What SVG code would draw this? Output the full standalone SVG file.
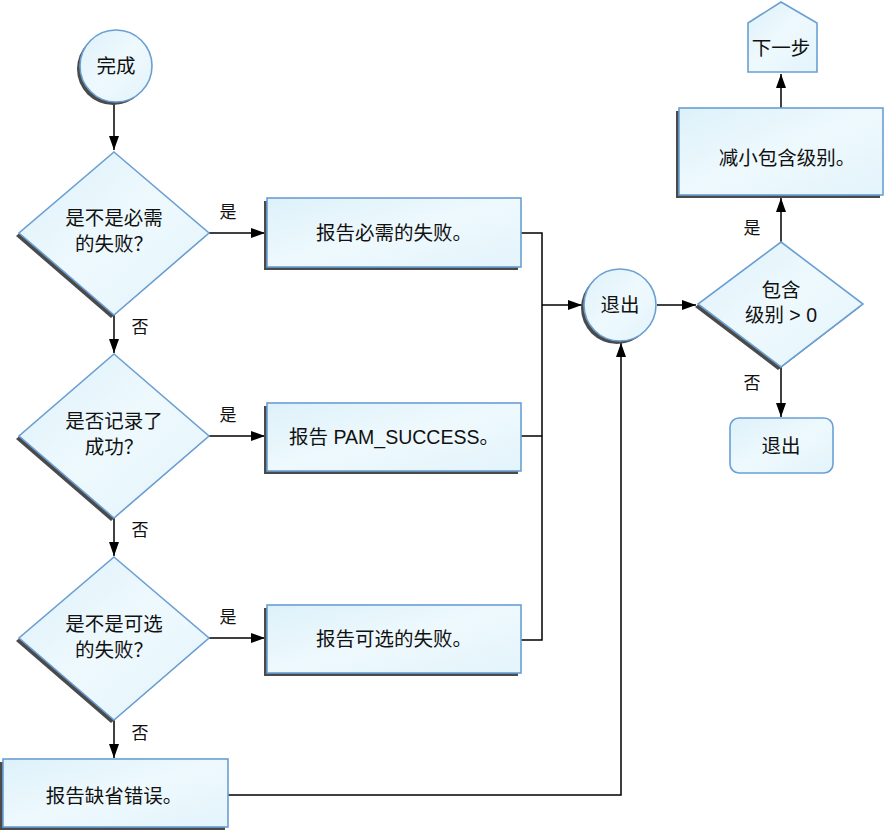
<svg xmlns="http://www.w3.org/2000/svg" width="885" height="831" viewBox="0 0 885 831">
<style>
.s{fill:url(#g);stroke:#6a9fd4;stroke-width:1.6}
.sh{fill:#4a4a4a}
.t{font-family:"Liberation Sans","Noto Sans CJK SC",sans-serif;font-size:19.5px;fill:#111;text-anchor:middle}
.q{font-family:"Noto Sans CJK SC",sans-serif}
.l{font-family:"Liberation Sans","Noto Sans CJK SC",sans-serif;font-size:17px;fill:#111;text-anchor:middle}
.c{fill:none;stroke:#000;stroke-width:1.5}
</style>
<defs>
<linearGradient id="g" x1="0" y1="0" x2="1" y2="1">
<stop offset="0" stop-color="#ddf1fa"/>
<stop offset="0.5" stop-color="#eef9fd"/>
<stop offset="1" stop-color="#e3f4fb"/>
</linearGradient>
<marker id="a" markerWidth="14" markerHeight="10" refX="14" refY="5" orient="auto" markerUnits="userSpaceOnUse">
<path d="M0,0 L14,5 L0,10 Z" fill="#000"/>
</marker>
</defs>
<g id="connectors">
<path class="c" d="M114,103 V150" marker-end="url(#a)"/>
<path class="c" d="M208,233 H265" marker-end="url(#a)"/>
<path class="c" d="M114,315 V353" marker-end="url(#a)"/>
<path class="c" d="M208,436 H265" marker-end="url(#a)"/>
<path class="c" d="M114,518 V556" marker-end="url(#a)"/>
<path class="c" d="M208,638 H265" marker-end="url(#a)"/>
<path class="c" d="M114,720 V758" marker-end="url(#a)"/>
<path class="c" d="M521,233 H542 V640 H521"/>
<path class="c" d="M521,436 H542"/>
<path class="c" d="M542,305 H582" marker-end="url(#a)"/>
<path class="c" d="M227,795 H621 V343" marker-end="url(#a)"/>
<path class="c" d="M657,305 H696" marker-end="url(#a)"/>
<path class="c" d="M781,242 V198" marker-end="url(#a)"/>
<path class="c" d="M781,108 V74" marker-end="url(#a)"/>
<path class="c" d="M781,367 V417" marker-end="url(#a)"/>
<text class="l" x="228" y="218">是</text>
<text class="l" x="228" y="421">是</text>
<text class="l" x="228" y="623">是</text>
<text class="l" x="140" y="333">否</text>
<text class="l" x="140" y="536">否</text>
<text class="l" x="140" y="739">否</text>
<text class="l" x="752" y="234">是</text>
<text class="l" x="752" y="389">否</text>
</g>
<g id="start">
<circle class="sh" cx="113" cy="69" r="36"/>
<circle class="s" cx="116" cy="66" r="36"/>
<text class="t" x="116" y="73">完成</text>
</g>
<g id="d1">
<polygon class="sh" points="111,155 206,236 111,318 16,236"/>
<polygon class="s" points="114,152 209,233 114,315 19,233"/>
<text class="t" x="114" y="225">是不是必需</text>
<text class="t q" x="114" y="251">的失败？</text>
</g>
<g id="b1">
<rect class="sh" x="264" y="201" width="254" height="69"/>
<rect class="s" x="267" y="198" width="254" height="69"/>
<text class="t" x="394" y="240">报告必需的失败。</text>
</g>
<g id="d2">
<polygon class="sh" points="111,357 206,439 111,521 16,439"/>
<polygon class="s" points="114,354 209,436 114,518 19,436"/>
<text class="t" x="114" y="428">是否记录了</text>
<text class="t q" x="114" y="454">成功？</text>
</g>
<g id="b2">
<rect class="sh" x="264" y="406" width="254" height="68"/>
<rect class="s" x="267" y="403" width="254" height="68"/>
<text class="t" x="394" y="444">报告 PAM_SUCCESS。</text>
</g>
<g id="d3">
<polygon class="sh" points="111,560 206,641 111,723 16,641"/>
<polygon class="s" points="114,557 209,638 114,720 19,638"/>
<text class="t" x="114" y="631">是不是可选</text>
<text class="t q" x="114" y="657">的失败？</text>
</g>
<g id="b3">
<rect class="sh" x="264" y="608" width="254" height="68"/>
<rect class="s" x="267" y="605" width="254" height="68"/>
<text class="t" x="394" y="646">报告可选的失败。</text>
</g>
<g id="b4">
<rect class="sh" x="0" y="762" width="225" height="68"/>
<rect class="s" x="3" y="759" width="225" height="68"/>
<text class="t" x="114" y="803">报告缺省错误。</text>
</g>
<g id="exit1">
<circle class="sh" cx="617" cy="308" r="36"/>
<circle class="s" cx="620" cy="305" r="36"/>
<text class="t" x="620" y="312">退出</text>
</g>
<g id="d4">
<polygon class="sh" points="778,245 860,307 778,370 695,307"/>
<polygon class="s" points="781,242 863,304 781,367 698,304"/>
<text class="t" x="781" y="297">包含</text>
<text class="t" x="781" y="322">级别 &gt; 0</text>
</g>
<g id="b5">
<rect class="sh" x="676" y="111" width="204" height="87"/>
<rect class="s" x="679" y="108" width="204" height="87"/>
<text class="t" x="787" y="165">减小包含级别。</text>
</g>
<g id="next">
<polygon class="s" points="748,23 781,2 817,23 817,72 748,72"/>
<text class="t" x="781" y="55">下一步</text>
</g>
<g id="exit2">
<rect class="s" x="730" y="418" width="103" height="55" rx="9"/>
<text class="t" x="781" y="453">退出</text>
</g>
</svg>
